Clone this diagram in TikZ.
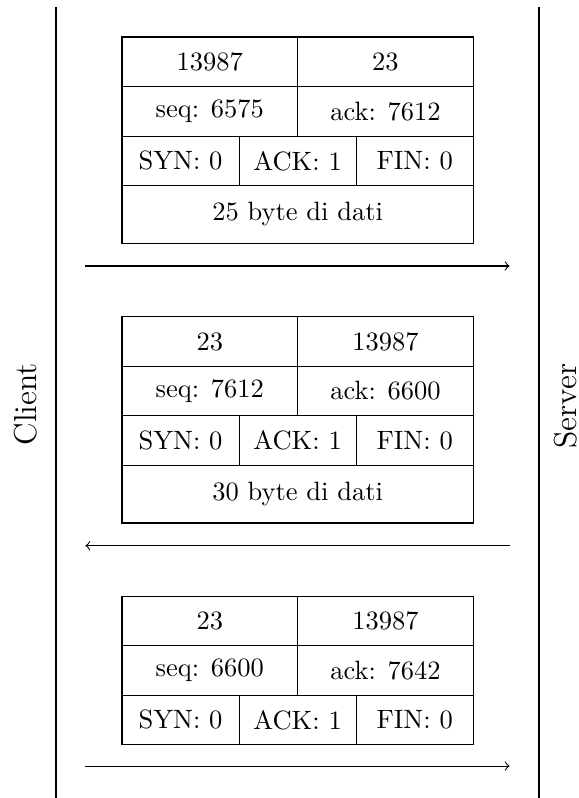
\documentclass[tikz,border=0pt]{standalone}
\usetikzlibrary{positioning}
\begin{document}
\begin{tikzpicture}[
  node distance=0mm,
  every node/.style={font=\normalsize},
  cell/.style={draw, outer sep=0pt, inner sep=0pt, minimum width=23.3mm,
               minimum height=6.57mm},
  flag/.style={cell, minimum width=15.53mm},
  payload/.style={cell, minimum width=46.6mm, minimum height=7.65mm},
  host/.style={font=\large, rotate=90},
  wire/.style={thick},
  arr/.style={->}
]
\useasboundingbox (0,0) rectangle (76.8mm,-105.85mm);

% hosts
\coordinate (ctop) at (7.39mm,-0.93mm);
\coordinate (cbot) at (7.39mm,-105.85mm);
\coordinate (stop) at (71.5mm,-0.93mm);
\coordinate (sbot) at (71.5mm,-105.85mm);
\node[host] (client) at (3.41mm,-53.6mm) {Client};
\node[host] (server) at (75.05mm,-53.85mm) {Server};

% segment 1 (client -> server)
\node[cell, anchor=north west] (s1src) at (16.18mm,-4.91mm) {13987};
\node[cell, right=of s1src] (s1dst) {23};
\node[cell, below=of s1src] (s1seq) {seq: 6575};
\node[cell, right=of s1seq] (s1ack) {ack: 7612};
\node[flag, anchor=north west] (s1syn) at (s1seq.south west) {SYN: 0};
\node[flag, right=of s1syn] (s1ackf) {ACK: 1};
\node[flag, right=of s1ackf] (s1fin) {FIN: 0};
\node[payload, anchor=north west] (s1data) at (s1syn.south west) {25 byte di dati};

% segment 2 (server -> client)
\node[cell, anchor=north west] (s2src) at (16.18mm,-42.01mm) {23};
\node[cell, right=of s2src] (s2dst) {13987};
\node[cell, below=of s2src] (s2seq) {seq: 7612};
\node[cell, right=of s2seq] (s2ack) {ack: 6600};
\node[flag, anchor=north west] (s2syn) at (s2seq.south west) {SYN: 0};
\node[flag, right=of s2syn] (s2ackf) {ACK: 1};
\node[flag, right=of s2ackf] (s2fin) {FIN: 0};
\node[payload, anchor=north west] (s2data) at (s2syn.south west) {30 byte di dati};

% segment 3 (client -> server)
\node[cell, anchor=north west] (s3src) at (16.18mm,-79.06mm) {23};
\node[cell, right=of s3src] (s3dst) {13987};
\node[cell, below=of s3src] (s3seq) {seq: 6600};
\node[cell, right=of s3seq] (s3ack) {ack: 7642};
\node[flag, anchor=north west] (s3syn) at (s3seq.south west) {SYN: 0};
\node[flag, right=of s3syn] (s3ackf) {ACK: 1};
\node[flag, right=of s3ackf] (s3fin) {FIN: 0};

% arrow ends
\coordinate (a1l) at (11.33mm,-35.28mm);
\coordinate (a1r) at (67.59mm,-35.28mm);
\coordinate (a2l) at (11.33mm,-72.39mm);
\coordinate (a2r) at (67.59mm,-72.39mm);
\coordinate (a3l) at (11.33mm,-101.61mm);
\coordinate (a3r) at (67.59mm,-101.61mm);

% wires
\draw[wire] (ctop) -- (cbot);
\draw[wire] (stop) -- (sbot);
\draw[arr] (a1l) -- (a1r);
\draw[arr] (a2r) -- (a2l);
\draw[arr] (a3l) -- (a3r);
\end{tikzpicture}
\end{document}
